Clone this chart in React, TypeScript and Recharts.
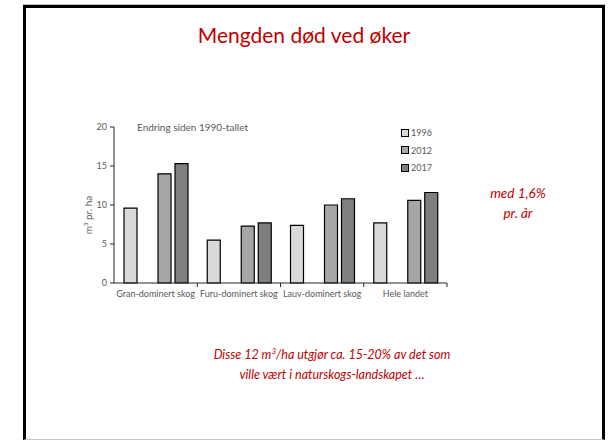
import { BarChart, Bar, XAxis, YAxis } from "recharts";

const CATEGORIES = ["Gran-dominert skog", "Furu-dominert skog", "Lauv-dominert skog", "Hele landet"];
const Y1996 = [9.6, 5.5, 7.4, 7.7];
const Y2012 = [14.0, 7.3, 10.0, 10.6];
const Y2017 = [15.3, 7.7, 10.8, 11.6];
const Y_TICKS = [0, 5, 10, 15, 20];

const SERIES = [
  { key: "y1996", name: "1996", fill: "#d9d9d9" },
  { key: "y2012", name: "2012", fill: "#a6a6a6" },
  { key: "y2017", name: "2017", fill: "#7f7f7f" },
];

const data = CATEGORIES.map((name, i) => ({
  name,
  y1996: Y1996[i],
  y2012: Y2012[i],
  y2017: Y2017[i],
}));

const FONT = "Lato, 'Open Sans', sans-serif";
const GREY = "#595959";
const RED = "#c00000";
const PLOT_W = 333;
const BAND = PLOT_W / CATEGORIES.length;

function CategoryTick({ x, y, payload }: any) {
  return (
    <g>
      <line x1={x + BAND / 2} y1={y - 6} x2={x + BAND / 2} y2={y - 2} stroke="#262626" />
      <text x={x} y={y} dy={8} textAnchor="middle" fontSize={9} fill={GREY} fontFamily={FONT}>
        {payload.value}
      </text>
    </g>
  );
}

export default function App() {
  return (
    <div
      style={{
        position: "absolute",
        left: 0,
        top: 0,
        width: 608,
        height: 440,
        background: "#fff",
        overflow: "hidden",
        fontFamily: FONT,
      }}
    >
      {/* slide frame */}
      <div
        style={{
          position: "absolute",
          left: 23,
          top: 5,
          width: 582,
          height: 435,
          boxSizing: "border-box",
          borderTop: "3px solid #000",
          borderLeft: "3px solid #000",
          borderRight: "3px solid #000",
          borderBottom: "1px solid #c8c8c8",
          boxShadow: "0 -1px 0 #bfbfbf",
        }}
      />

      <div
        style={{
          position: "absolute",
          left: 104,
          width: 400,
          top: 22,
          textAlign: "center",
          color: RED,
          fontSize: 21,
        }}
      >
        Mengden død ved øker
      </div>

      <div style={{ position: "absolute" }}>
        <BarChart
          width={608}
          height={440}
          data={data}
          margin={{ top: 127, right: 161, bottom: 127, left: 74 }}
          barSize={13}
          barGap={4}
        >
          <XAxis
            dataKey="name"
            height={30}
            tickSize={4}
            tickMargin={2}
            tickLine={false}
            interval={0}
            axisLine={{ stroke: "#262626" }}
            tick={<CategoryTick />}
          />
          <YAxis
            width={40}
            domain={[0, 20]}
            ticks={Y_TICKS}
            tickSize={4}
            tickMargin={3}
            axisLine={{ stroke: "#262626" }}
            tickLine={{ stroke: "#262626" }}
            tick={{ fontSize: 9, fill: GREY, fontFamily: FONT }}
          />
          <Bar dataKey="y1996" name="1996" fill={SERIES[0].fill} stroke="#000" strokeWidth={1.2} isAnimationActive={false} />
          <Bar dataKey="spacer" legendType="none" isAnimationActive={false} />
          <Bar dataKey="y2012" name="2012" fill={SERIES[1].fill} stroke="#000" strokeWidth={1.2} isAnimationActive={false} />
          <Bar dataKey="y2017" name="2017" fill={SERIES[2].fill} stroke="#000" strokeWidth={1.2} isAnimationActive={false} />
        </BarChart>
      </div>

      {/* y axis title */}
      <div
        style={{
          position: "absolute",
          left: 88,
          top: 215,
          transform: "translate(-50%, -50%) rotate(-90deg)",
          whiteSpace: "nowrap",
          fontSize: 10,
          color: GREY,
        }}
      >
        m<sup style={{ fontSize: 6 }}>3</sup> pr. ha
      </div>

      <div style={{ position: "absolute", left: 137, top: 121, fontSize: 10, color: GREY }}>
        Endring siden 1990-tallet
      </div>

      {/* legend */}
      <div style={{ position: "absolute", left: 401, top: 124 }}>
        {SERIES.map((s) => (
          <div key={s.key} style={{ display: "flex", alignItems: "center", height: 17.5, fontSize: 9, color: GREY }}>
            <span
              style={{
                width: 6,
                height: 6,
                background: s.fill,
                border: "1px solid #000",
                marginRight: 2,
              }}
            />
            {s.name}
          </div>
        ))}
      </div>

      <div
        style={{
          position: "absolute",
          left: 468,
          width: 100,
          top: 183,
          textAlign: "center",
          color: RED,
          fontSize: 13.5,
          fontStyle: "italic",
          lineHeight: "20px",
        }}
      >
        med 1,6%
        <br />
        pr. år
      </div>

      <div
        style={{
          position: "absolute",
          left: 182,
          width: 300,
          top: 345,
          textAlign: "center",
          color: RED,
          fontSize: 12.5,
          fontStyle: "italic",
          lineHeight: "20px",
        }}
      >
        Disse 12 m<sup style={{ fontSize: 8, lineHeight: 0 }}>3</sup>/ha utgjør ca. 15-20% av det som
        <br />
        ville vært i naturskogs-landskapet …
      </div>
    </div>
  );
}
